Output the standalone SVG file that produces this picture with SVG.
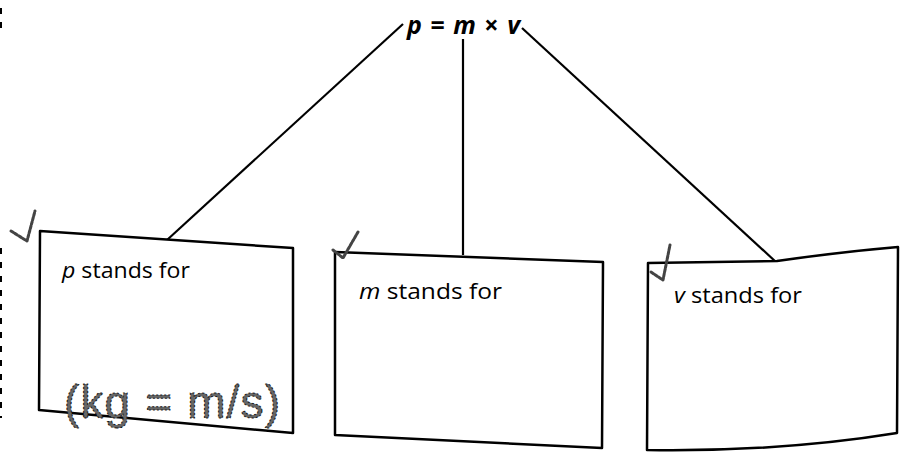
<svg xmlns="http://www.w3.org/2000/svg" width="908" height="455" viewBox="0 0 908 455">
<style>
.box{fill:#fff;stroke:#000;stroke-width:2.5;stroke-linejoin:round}
.con{stroke:#000;stroke-width:2.2;fill:none}
.lbl{font-family:"Open Sans","Liberation Sans",sans-serif;font-size:22px;fill:#000}
.tick{fill:none;stroke:#444;stroke-width:3;stroke-linecap:round;stroke-linejoin:round;stroke-dasharray:3 1.5}
.hand{font-family:"Liberation Sans",sans-serif;font-size:46px;fill:#666;stroke:#111;stroke-width:1;stroke-dasharray:2 2}
</style>
<rect width="908" height="455" fill="#fff"/>
<g id="margin" stroke="#000" stroke-width="2" stroke-dasharray="6 8">
<line x1="1" y1="8" x2="1" y2="36"/>
<line x1="1" y1="248" x2="1" y2="418"/>
</g>
<g id="connectors">
<line class="con" x1="403" y1="24" x2="167" y2="240"/>
<line class="con" x1="463" y1="39" x2="463" y2="255"/>
<line class="con" x1="522" y1="28" x2="776" y2="262"/>
</g>
<g id="formula">
<text x="407" y="34" font-family="'Open Sans','Liberation Sans',sans-serif" font-size="25" font-weight="bold" fill="#000" textLength="113" lengthAdjust="spacing"><tspan font-style="italic">p</tspan> = <tspan font-style="italic">m</tspan> × <tspan font-style="italic">v</tspan></text>
</g>
<g id="box-p">
<path class="box" d="M40,231 L293,248 L293,433 L39,410 Z"/>
<text class="lbl" x="62" y="278" textLength="128" lengthAdjust="spacingAndGlyphs"><tspan font-style="italic">p</tspan> stands for</text>
<text class="hand" x="64" y="418" textLength="216" lengthAdjust="spacing">(kg = m/s)</text>
<path class="tick" d="M11,231 L27,241 L35,211"/>
</g>
<g id="box-m">
<path class="box" d="M335,252 L603,262 L602,448 L335,435 Z"/>
<text class="lbl" x="359" y="299" textLength="143" lengthAdjust="spacingAndGlyphs"><tspan font-style="italic">m</tspan> stands for</text>
<path class="tick" d="M333,250 L343,258 L358,232"/>
</g>
<g id="box-v">
<path class="box" d="M648,263 L777,261 Q840,252 898,247 L897,433 Q780,452 647,450 Z"/>
<text class="lbl" x="674" y="303" textLength="128" lengthAdjust="spacingAndGlyphs"><tspan font-style="italic">v</tspan> stands for</text>
<path class="tick" d="M651,272 L663,280 L670,245"/>
</g>
</svg>
